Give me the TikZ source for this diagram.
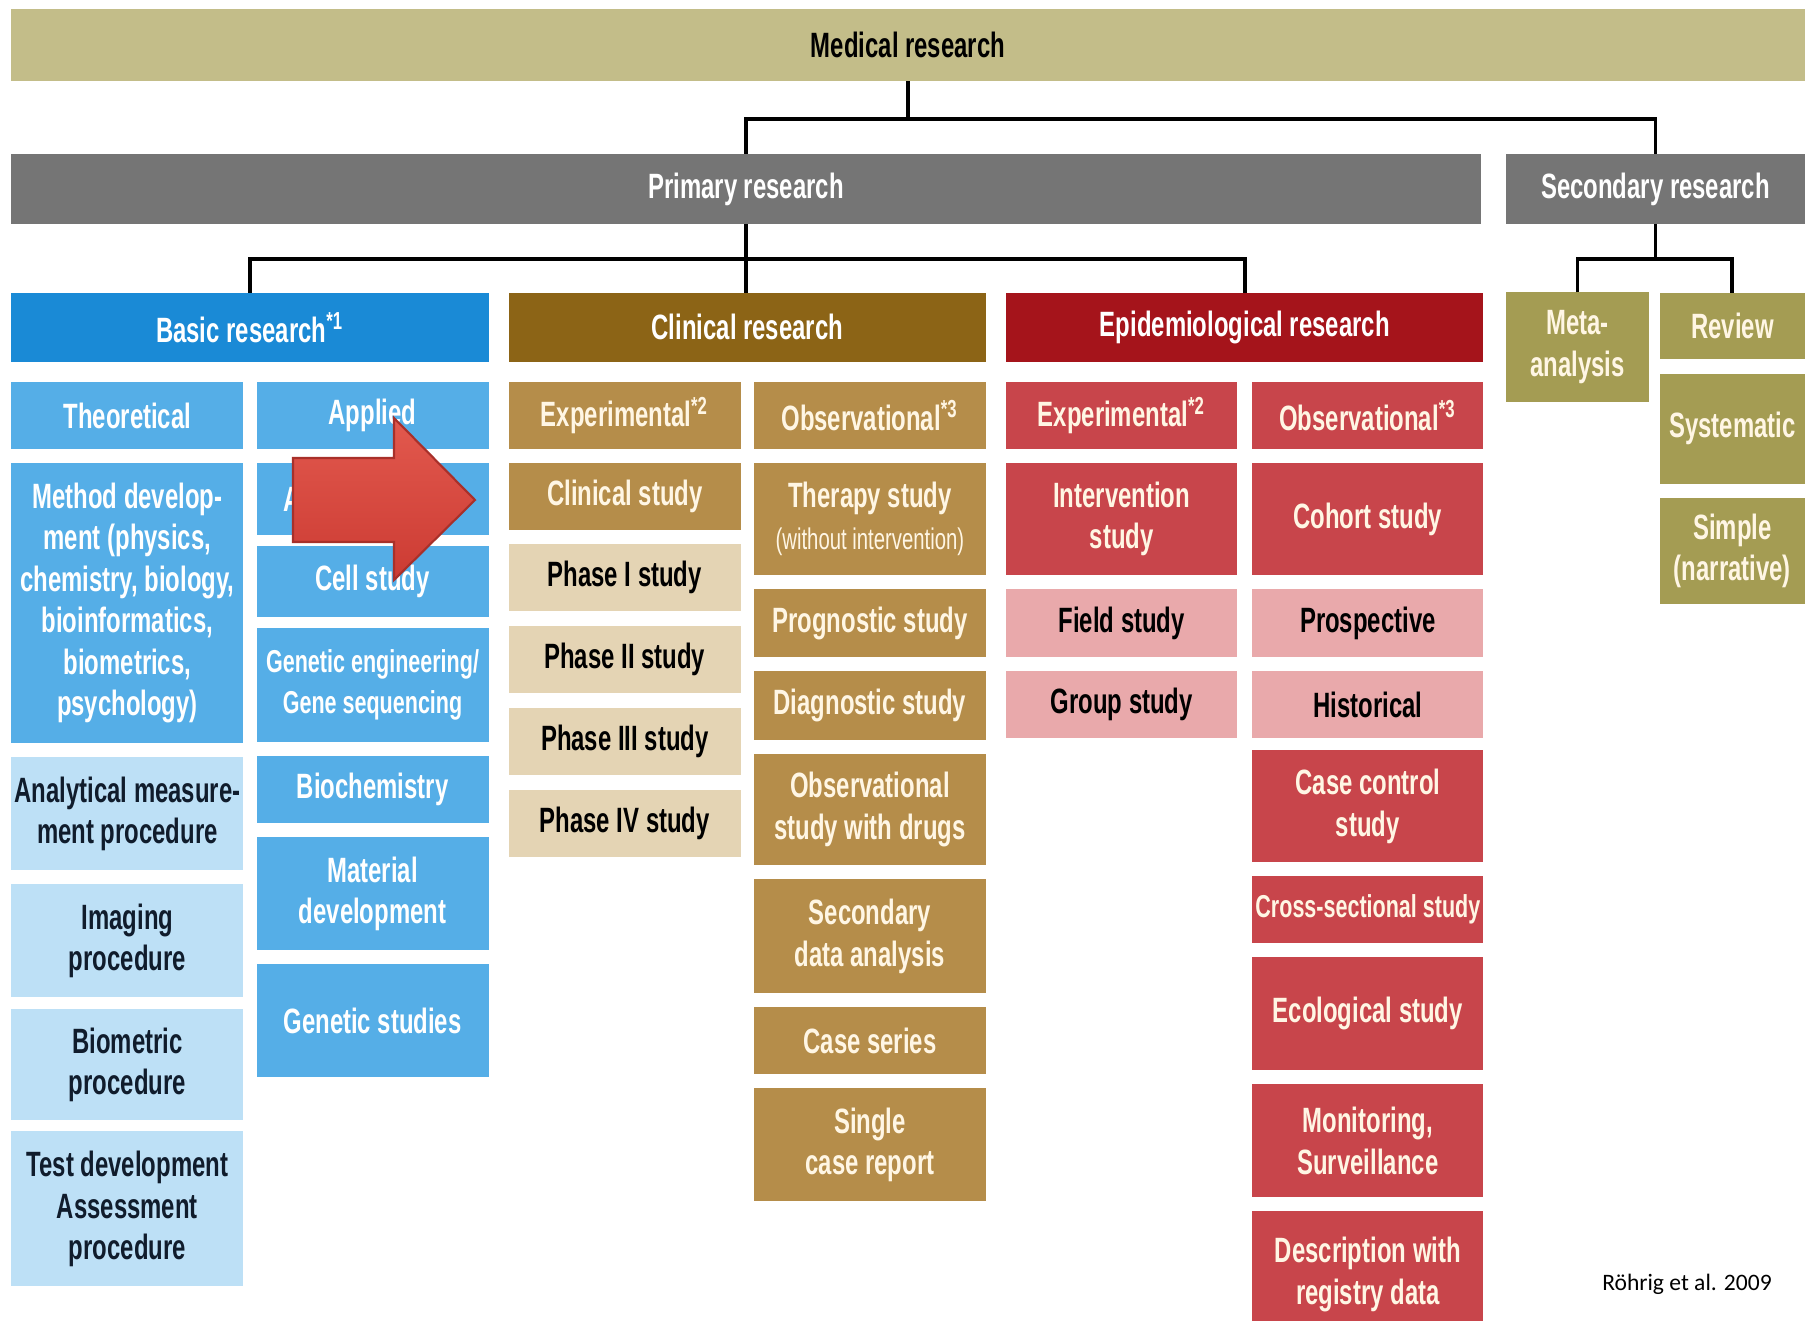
\documentclass[tikz,border=0pt]{standalone}
\usepackage{fontspec}
\newfontfamily\cond{Liberation Sans}[FakeStretch=0.68]
\newfontfamily\credfont{Carlito}
\usetikzlibrary{positioning}

\definecolor{medkhaki}{HTML}{C3BD89}
\definecolor{primgray}{HTML}{757575}
\definecolor{basicblue}{HTML}{1A8AD6}
\definecolor{midblue}{HTML}{55AEE7}
\definecolor{paleblue}{HTML}{BDE0F6}
\definecolor{clinbrown}{HTML}{8C6416}
\definecolor{clingold}{HTML}{B58D4A}
\definecolor{clinbeige}{HTML}{E4D4B4}
\definecolor{epidred}{HTML}{A5141B}
\definecolor{midred}{HTML}{C8454B}
\definecolor{palered}{HTML}{E9A9AB}
\definecolor{secolive}{HTML}{A49C53}
\definecolor{cream}{HTML}{FFF6E4}
\definecolor{navytxt}{HTML}{101C2C}
\definecolor{arrowtop}{HTML}{E2594E}
\definecolor{arrowbot}{HTML}{CC3B33}
\definecolor{arrowedge}{HTML}{A8302A}

\tikzset{
  tbox/.style={rectangle, outer sep=0pt, inner xsep=0pt, inner ysep=1pt, align=center,
    minimum width=2.32cm, minimum height=0.67cm,
    font=\cond\bfseries\fontsize{10}{11.8}\selectfont},
  band/.style={tbox, minimum height=0.70cm, text=white},
  hd/.style={tbox, minimum width=4.77cm, minimum height=0.69cm, text=white},
  blueitem/.style={tbox, fill=midblue, text=white},
  paleitem/.style={tbox, fill=paleblue, text=navytxt},
  golditem/.style={tbox, fill=clingold, text=cream},
  beigeitem/.style={tbox, fill=clinbeige, text=black},
  reditem/.style={tbox, fill=midred, text=cream},
  pinkitem/.style={tbox, fill=palered, text=black},
  oliveitem/.style={tbox, fill=secolive, text=cream, minimum width=1.45cm},
  smalltxt/.style={font=\cond\bfseries\fontsize{9}{11.8}\selectfont},
  conn/.style={line width=1.1pt},
  bigarrow/.style={top color=arrowtop, bottom color=arrowbot, draw=arrowedge, line width=0.6pt}
}

\begin{document}
\begin{tikzpicture}[x=0.01cm, y=-0.01cm]
  \useasboundingbox (0,0) rectangle (1814,1321);
  \clip (0,0) rectangle (1814,1321);
  \fill[white] (0,0) rectangle (1814,1321);

  % top levels
  \node[band, fill=medkhaki, text=black, minimum width=17.93cm, minimum height=0.72cm] (med) at (908,45) {Medical research};
  \node[band, fill=primgray, minimum width=14.69cm] (prim) at (746,189) {Primary research};
  \node[band, fill=primgray, minimum width=2.98cm] (sec) at (1655.5,189) {Secondary research};

  \node[hd, fill=basicblue] (basic) at (250,327.4) {Basic research\textsuperscript{*1}};
  \node[hd, fill=clinbrown] (clin) at (747.4,327.4) {Clinical research};
  \node[hd, fill=epidred] (epid) at (1244.8,327.4) {Epidemiological research};

  % basic research
  \node[blueitem, below right=0.2cm and 0cm of basic.south west] (theo) {Theoretical};
  \node[blueitem, below left=0.2cm and 0cm of basic.south east] (appl) {Applied};
  \node[blueitem, minimum height=2.80cm, below=0.14cm of theo] (method) {Method develop-\\ment (physics,\\chemistry, biology,\\bioinformatics,\\biometrics,\\psychology)};
  \node[paleitem, minimum height=1.13cm, below=0.14cm of method] (anal) {Analytical measure-\\ment procedure};
  \node[paleitem, minimum height=1.13cm, below=0.14cm of anal] (imag) {Imaging\\procedure};
  \node[paleitem, minimum height=1.11cm, below=0.12cm of imag] (biom) {Biometric\\procedure};
  \node[paleitem, minimum height=1.55cm, below=0.11cm of biom] (testdev) {Test development\\Assessment\\procedure};
  \node[blueitem, minimum height=0.72cm, text width=1.78cm, align=left, below=0.14cm of appl] (animal) {Animal model};
  \node[blueitem, minimum height=0.71cm, below=0.11cm of animal] (cellst) {Cell study};
  \node[blueitem, smalltxt, minimum height=1.14cm, below=0.11cm of cellst] (geneng) {Genetic engineering/\\Gene sequencing};
  \node[blueitem, below=0.14cm of geneng] (bioch) {Biochemistry};
  \node[blueitem, minimum height=1.13cm, below=0.14cm of bioch] (mater) {Material\\development};
  \node[blueitem, minimum height=1.13cm, below=0.14cm of mater] (genst) {Genetic studies};

  % clinical research
  \node[golditem, below right=0.2cm and 0cm of clin.south west] (cexp) {Experimental\textsuperscript{*2}};
  \node[golditem, below left=0.2cm and 0cm of clin.south east] (cobs) {Observational\textsuperscript{*3}};
  \node[golditem, below=0.14cm of cexp] (cstudy) {Clinical study};
  \node[beigeitem, below=0.14cm of cstudy] (ph1) {Phase I study};
  \node[beigeitem, below=0.15cm of ph1] (ph2) {Phase II study};
  \node[beigeitem, below=0.15cm of ph2] (ph3) {Phase III study};
  \node[beigeitem, below=0.15cm of ph3] (ph4) {Phase IV study};
  \node[golditem, minimum height=1.12cm, below=0.14cm of cobs] (therapy) {Therapy study\\{\mdseries\fontsize{8.5}{10}\selectfont(without intervention)}};
  \node[golditem, minimum height=0.68cm, below=0.14cm of therapy] (progn) {Prognostic study};
  \node[golditem, minimum height=0.69cm, below=0.14cm of progn] (diagn) {Diagnostic study};
  \node[golditem, minimum height=1.11cm, below=0.14cm of diagn] (drugs) {Observational\\study with drugs};
  \node[golditem, minimum height=1.14cm, below=0.14cm of drugs] (secdata) {Secondary\\data analysis};
  \node[golditem, below=0.14cm of secdata] (caseser) {Case series};
  \node[golditem, minimum height=1.13cm, below=0.14cm of caseser] (single) {Single\\case report};

  % epidemiological research
  \node[reditem, minimum width=2.31cm, below right=0.2cm and 0cm of epid.south west] (eexp) {Experimental\textsuperscript{*2}};
  \node[reditem, minimum width=2.31cm, below left=0.2cm and 0cm of epid.south east] (eobs) {Observational\textsuperscript{*3}};
  \node[reditem, minimum width=2.31cm, minimum height=1.12cm, below=0.14cm of eexp] (interv) {Intervention\\study};
  \node[pinkitem, minimum width=2.31cm, minimum height=0.68cm, below=0.14cm of interv] (field) {Field study};
  \node[pinkitem, minimum width=2.31cm, below=0.14cm of field] (group) {Group study};
  \node[reditem, minimum width=2.31cm, minimum height=1.12cm, below=0.14cm of eobs] (cohort) {Cohort study};
  \node[pinkitem, minimum width=2.31cm, minimum height=0.68cm, below=0.14cm of cohort] (prosp) {Prospective};
  \node[pinkitem, minimum width=2.31cm, below=0.14cm of prosp] (hist) {Historical};
  \node[reditem, minimum width=2.31cm, minimum height=1.12cm, below=0.12cm of hist] (casectl) {Case control\\study};
  \node[reditem, smalltxt, minimum width=2.31cm, below=0.14cm of casectl] (cross) {Cross-sectional study};
  \node[reditem, minimum width=2.31cm, minimum height=1.13cm, below=0.14cm of cross] (ecol) {Ecological study};
  \node[reditem, minimum width=2.31cm, minimum height=1.13cm, below=0.14cm of ecol] (monit) {Monitoring,\\Surveillance};
  \node[reditem, minimum width=2.31cm, minimum height=1.26cm, below=0.14cm of monit] (regist) {Description with\\registry data};

  % secondary research
  \node[oliveitem, minimum width=1.42cm, minimum height=1.09cm] (meta) at (1577.5,347) {Meta-\\analysis};
  \node[oliveitem, minimum height=0.66cm] (review) at (1732.4,325.6) {Review};
  \node[oliveitem, minimum height=1.10cm, below=0.15cm of review] (syst) {Systematic};
  \node[oliveitem, minimum height=1.06cm, below=0.14cm of syst] (simple) {Simple\\(narrative)};

  % connectors
  \draw[conn] (med.south) -- ++(0,38) coordinate (jm);
  \draw[conn] (prim.north) |- (jm) -| (sec.north);
  \draw[conn] (prim.south) -- ++(0,35) coordinate (jp);
  \draw[conn] (basic.north) |- (jp) -| (epid.north);
  \draw[conn] (jp) -- (jp |- clin.north);
  \draw[conn] (sec.south) -- ++(0,35) coordinate (js);
  \draw[conn] (meta.north) |- (js) -| (review.north);

  % red arrow
  \draw[bigarrow] (293,458) -- (394,458) -- (394,418) -- (475,500) -- (394,580) -- (394,542) -- (293,542) -- cycle;

  \node[font=\credfont\fontsize{6.7}{8}\selectfont, anchor=base] (credit) at (1687,1290) {Röhrig et al. 2009};
\end{tikzpicture}
\end{document}
